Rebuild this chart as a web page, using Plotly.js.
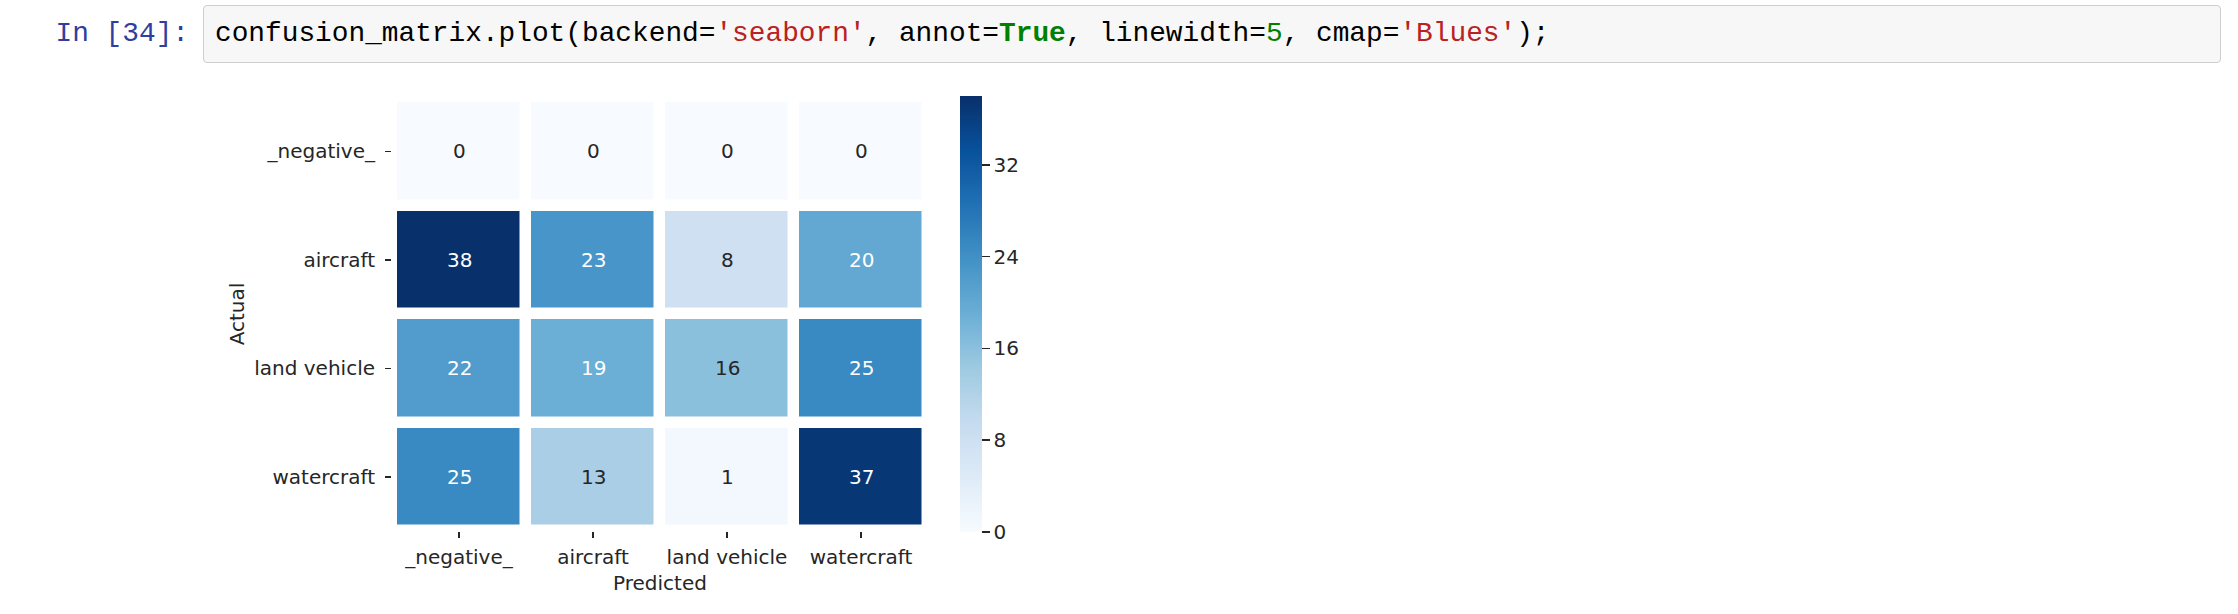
<!DOCTYPE html>
<html>
<head>
<meta charset="utf-8">
<script src="https://cdn.plot.ly/plotly-3.0.1.min.js"></script>
<style>
html, body { margin:0; padding:0; background:#ffffff; width:2238px; height:614px; overflow:hidden; }
.mono { font-family: 'Courier New', Courier, 'Nimbus Mono PS', 'Liberation Mono', monospace; font-size:27.8px; }
#prompt { position:absolute; left:0; top:5px; width:189px; height:58px; line-height:58px; text-align:right; color:#303F9F; white-space:pre; }
#cell { position:absolute; left:203px; top:5px; width:2018px; height:58px; box-sizing:border-box; border:1px solid #cfcfcf; border-radius:4px; background:#f7f7f7; }
#code { position:absolute; left:11px; top:0; height:56px; line-height:56px; color:#000000; white-space:pre; }
.s { color:#BA2121; }
.k { color:#008000; font-weight:bold; }
.n { color:#008000; }
#chart { position:absolute; left:0; top:0; width:2238px; height:614px; }
</style>
</head>
<body>
<div id="chart"></div>
<div id="prompt" class="mono">In [34]:</div>
<div id="cell"><div id="code" class="mono">confusion_matrix.plot(backend=<span class="s">'seaborn'</span>, annot=<span class="k">True</span>, linewidth=<span class="n">5</span>, cmap=<span class="s">'Blues'</span>);</div></div>
<script>
// ---- data ----
var predictedLabels = ['_negative_', 'aircraft', 'land vehicle', 'watercraft'];
var actualLabels = ['_negative_', 'aircraft', 'land vehicle', 'watercraft'];
var counts = [
  [0, 0, 0, 0],
  [38, 23, 8, 20],
  [22, 19, 16, 25],
  [25, 13, 1, 37]
];
var colorbarTicks = [0, 8, 16, 24, 32];
var zMin = 0;
var zMax = 38;

// matplotlib 'Blues'
var bluesHex = ['#f7fbff', '#deebf7', '#c6dbef', '#9ecae1', '#6baed6', '#4292c6', '#2171b5', '#08519c', '#08306b'];
var bluesScale = bluesHex.map(function (c, i) { return [i / (bluesHex.length - 1), c]; });

function hexToRgb(h) {
  return [parseInt(h.substr(1, 2), 16), parseInt(h.substr(3, 2), 16), parseInt(h.substr(5, 2), 16)];
}
function colorAt(v) {
  var t = (v - zMin) / (zMax - zMin);
  t = Math.max(0, Math.min(1, t));
  var pos = t * (bluesHex.length - 1);
  var i = Math.min(Math.floor(pos), bluesHex.length - 2);
  var f = pos - i;
  var a = hexToRgb(bluesHex[i]), b = hexToRgb(bluesHex[i + 1]);
  return [0, 1, 2].map(function (k) { return a[k] + (b[k] - a[k]) * f; });
}
function luminance(rgb) {
  var c = rgb.map(function (x) {
    x = x / 255;
    return x <= 0.03928 ? x / 12.92 : Math.pow((x + 0.055) / 1.055, 2.4);
  });
  return 0.2126 * c[0] + 0.7152 * c[1] + 0.0722 * c[2];
}

var textColor = '#262626';
var fontFamily = "'DejaVu Sans', Verdana, sans-serif";
var fontSize = 20;

var annotations = [];
for (var i = 0; i < actualLabels.length; i++) {
  for (var j = 0; j < predictedLabels.length; j++) {
    var v = counts[i][j];
    annotations.push({
      x: predictedLabels[j], y: actualLabels[i], xref: 'x', yref: 'y',
      text: String(v), showarrow: false,
      font: { family: fontFamily, size: fontSize, color: luminance(colorAt(v)) > 0.408 ? textColor : '#ffffff' }
    });
  }
}

var trace = {
  type: 'heatmap',
  x: predictedLabels,
  y: actualLabels,
  z: counts,
  zmin: zMin,
  zmax: zMax,
  colorscale: bluesScale,
  xgap: 11.5,
  ygap: 11.5,
  hoverinfo: 'skip',
  colorbar: {
    x: (960 - 392) / 536, xanchor: 'left',
    y: 0.5, yanchor: 'middle',
    lenmode: 'pixels', len: 436,
    thickness: 22, thicknessmode: 'pixels',
    xpad: 0, ypad: 0,
    outlinewidth: 0,
    tickmode: 'array', tickvals: colorbarTicks, ticktext: colorbarTicks.map(String),
    ticks: 'outside', ticklen: 8, tickwidth: 1.5, tickcolor: textColor,
    tickfont: { family: fontFamily, size: fontSize, color: textColor }
  }
};

var axisCommon = {
  type: 'category',
  showgrid: false, zeroline: false, showline: false,
  ticks: 'outside', ticklen: 6, tickwidth: 1.5, tickcolor: textColor,
  tickfont: { family: fontFamily, size: fontSize, color: textColor },
  automargin: false,
  fixedrange: true
};

var layout = {
  width: 2238, height: 614,
  paper_bgcolor: 'rgba(0,0,0,0)',
  plot_bgcolor: '#ffffff',
  margin: { l: 392, r: 1310, t: 96.5, b: 82.5, pad: 0, autoexpand: false },
  showlegend: false,
  font: { family: fontFamily, size: fontSize, color: textColor },
  xaxis: Object.assign({}, axisCommon, {
    ticklabelstandoff: 2,
    title: { text: 'Predicted', standoff: 7, font: { family: fontFamily, size: fontSize, color: textColor } }
  }),
  yaxis: Object.assign({}, axisCommon, {
    autorange: 'reversed',
    ticklabelstandoff: 6,
    title: { text: 'Actual', standoff: 4, font: { family: fontFamily, size: fontSize, color: textColor } }
  }),
  annotations: annotations
};

Plotly.newPlot('chart', [trace], layout, { displayModeBar: false, staticPlot: true });
</script>
</body>
</html>
